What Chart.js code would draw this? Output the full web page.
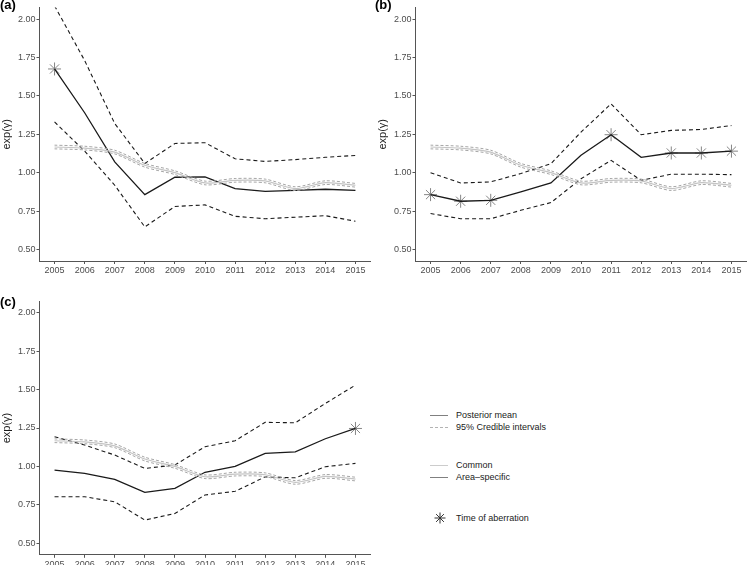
<!DOCTYPE html>
<html>
<head>
<meta charset="utf-8">
<script src="https://cdn.jsdelivr.net/npm/chart.js@4"></script>
<style>
  body { margin: 0; background: #fff; font-family: "Liberation Sans", Arial, sans-serif; }
  #wrap { position: relative; width: 754px; height: 565px; overflow: hidden; background: #fff; }
  canvas { position: absolute; }
  .tag { position: absolute; font-size: 13px; font-weight: bold; color: #000; line-height: 14px; }
  .key { position: absolute; width: 18px; height: 0; }
  .lab { position: absolute; left: 456px; font-size: 9px; line-height: 12px; color: #1a1a1a; white-space: nowrap; }
</style>
</head>
<body>
<div id="wrap">
  <canvas id="chartA" width="378" height="275" style="left:0;top:0"></canvas>
  <canvas id="chartB" width="378" height="275" style="left:376px;top:0"></canvas>
  <canvas id="chartC" width="378" height="290" style="left:0;top:275px"></canvas>

  <div class="tag" style="left:0;top:-2px">(a)</div>
  <div class="tag" style="left:375px;top:-2px">(b)</div>
  <div class="tag" style="left:0;top:295px">(c)</div>

  <div class="key" style="left:430px;top:415px;border-top:1px solid #808080"></div>
  <div class="lab" style="top:409px">Posterior mean</div>
  <div class="key" style="left:430px;top:427px;border-top:1px dashed #b3b3b3"></div>
  <div class="lab" style="top:421px">95% Credible intervals</div>

  <div class="key" style="left:430px;top:465px;border-top:1px solid #cccccc"></div>
  <div class="lab" style="top:459px">Common</div>
  <div class="key" style="left:430px;top:477px;border-top:1px solid #808080"></div>
  <div class="lab" style="top:471px">Area&#8211;specific</div>

  <svg style="position:absolute;left:434px;top:512px" width="12" height="12" viewBox="0 0 12 12">
    <g stroke="#333" stroke-width="1">
      <line x1="6" y1="0.5" x2="6" y2="11.5"/>
      <line x1="0.5" y1="6" x2="11.5" y2="6"/>
      <line x1="2.1" y1="2.1" x2="9.9" y2="9.9"/>
      <line x1="2.1" y1="9.9" x2="9.9" y2="2.1"/>
    </g>
  </svg>
  <div class="lab" style="top:512px">Time of aberration</div>
</div>

<script>
var years = [2005, 2006, 2007, 2008, 2009, 2010, 2011, 2012, 2013, 2014, 2015];
var yTicks = [0.5, 0.75, 1.0, 1.25, 1.5, 1.75, 2.0];

// common trend, same in every panel
var commonMean  = [1.167, 1.160, 1.134, 1.048, 1.000, 0.933, 0.950, 0.946, 0.896, 0.935, 0.918];
var commonUpper = [1.179, 1.172, 1.146, 1.060, 1.012, 0.945, 0.962, 0.958, 0.908, 0.947, 0.930];
var commonLower = [1.155, 1.148, 1.122, 1.036, 0.988, 0.921, 0.938, 0.934, 0.884, 0.923, 0.906];

// (a)
var aMean  = [1.675, 1.390, 1.070, 0.857, 0.970, 0.972, 0.896, 0.878, 0.885, 0.892, 0.885];
var aUpper = [2.086, 1.730, 1.320, 1.060, 1.190, 1.195, 1.090, 1.073, 1.085, 1.100, 1.112];
var aLower = [1.330, 1.140, 0.918, 0.647, 0.780, 0.790, 0.716, 0.700, 0.710, 0.720, 0.684];
var aAberr = [2005];

// (b)
var bMean  = [0.857, 0.814, 0.820, 0.875, 0.933, 1.113, 1.247, 1.100, 1.128, 1.128, 1.140];
var bUpper = [1.000, 0.933, 0.940, 0.994, 1.058, 1.264, 1.448, 1.247, 1.275, 1.281, 1.307];
var bLower = [0.734, 0.700, 0.700, 0.755, 0.805, 0.960, 1.080, 0.950, 0.990, 0.990, 0.987];
var bAberr = [2005, 2006, 2007, 2011, 2013, 2014, 2015];

// (c)
var cMean  = [0.976, 0.955, 0.916, 0.831, 0.857, 0.962, 1.000, 1.085, 1.095, 1.180, 1.247];
var cUpper = [1.193, 1.139, 1.074, 0.987, 1.009, 1.128, 1.167, 1.287, 1.284, 1.410, 1.529];
var cLower = [0.803, 0.803, 0.770, 0.651, 0.694, 0.814, 0.838, 0.932, 0.926, 0.998, 1.020];
var cAberr = [2015];

var fam = '"Liberation Sans", Arial, sans-serif';
var axisCol = '#555';

function lineSet(data, color, width, dash, tension) {
    return {
        data: data,
        borderColor: color,
        borderWidth: width,
        borderDash: dash,
        tension: tension,
        pointRadius: 0,
        fill: false
    };
}

function makePanel(id, mean, upper, lower, aberr, padTop, xHeight) {
    var stars = years.map(function (y, i) { return aberr.indexOf(y) >= 0 ? mean[i] : null; });
    var ctx = document.getElementById(id).getContext('2d');
    return new Chart(ctx, {
        type: 'line',
        data: {
            labels: years.map(String),
            datasets: [
                lineSet(commonMean, '#c4c4c4', 1.2, [], 0.25),
                lineSet(commonUpper, '#a6a6a6', 1, [3, 2], 0.25),
                lineSet(commonLower, '#a6a6a6', 1, [3, 2], 0.25),
                lineSet(upper, '#1a1a1a', 1.1, [4, 3], 0),
                lineSet(lower, '#1a1a1a', 1.1, [4, 3], 0),
                lineSet(mean, '#1a1a1a', 1.3, [], 0),
                {
                    data: stars,
                    showLine: false,
                    pointStyle: 'star',
                    pointRadius: 6.5,
                    pointBorderColor: '#858585',
                    pointBorderWidth: 1,
                    pointBackgroundColor: '#858585'
                }
            ]
        },
        options: {
            responsive: false,
            animation: false,
            layout: { padding: { top: padTop, right: 0, bottom: 0, left: 0 } },
            plugins: { legend: { display: false }, tooltip: { enabled: false } },
            scales: {
                x: {
                    type: 'category',
                    offset: true,
                    grid: { display: true, drawOnChartArea: false, drawTicks: true, tickLength: 3, color: axisCol, offset: false },
                    border: { display: true, color: axisCol, width: 1 },
                    ticks: { color: '#4d4d4d', font: { size: 9, family: fam }, padding: 1, maxRotation: 0, autoSkip: false },
                    afterFit: function (s) { s.height = xHeight; }
                },
                y: {
                    min: 0.425,
                    max: 2.075,
                    afterBuildTicks: function (s) { s.ticks = yTicks.map(function (v) { return { value: v }; }); },
                    grid: { display: true, drawOnChartArea: false, drawTicks: true, tickLength: 3, color: axisCol },
                    border: { display: true, color: axisCol, width: 1 },
                    ticks: {
                        color: '#4d4d4d',
                        font: { size: 9, family: fam },
                        padding: 1,
                        callback: function (v) { return Number(v).toFixed(2); }
                    },
                    title: { display: true, text: 'exp(γ)', color: '#1a1a1a', font: { size: 11, family: fam }, padding: 0 },
                    afterFit: function (s) { s.width = 39.5; }
                }
            }
        }
    });
}

makePanel('chartA', aMean, aUpper, aLower, aAberr, 6.75, 14);
makePanel('chartB', bMean, bUpper, bLower, bAberr, 6.75, 14);
makePanel('chartC', cMean, cUpper, cLower, cAberr, 26.2, 10.2);
</script>
</body>
</html>
